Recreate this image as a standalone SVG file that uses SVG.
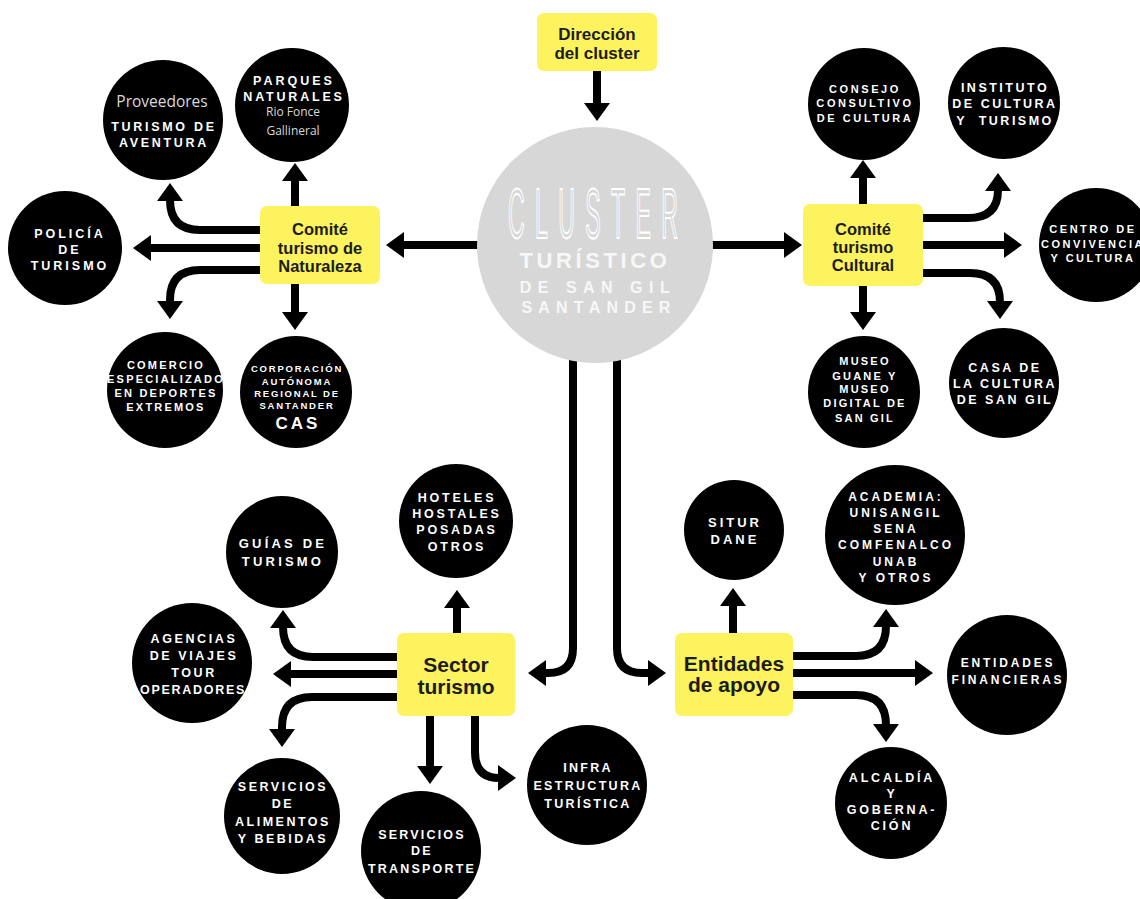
<svg xmlns="http://www.w3.org/2000/svg" width="1140" height="899" viewBox="0 0 1140 899">
<style>
.bg{fill:#ffffff}
.box{fill:#fcf35e}
.bt{fill:#1c1c1c;font-family:"Liberation Sans",Arial,sans-serif;font-weight:bold;text-anchor:middle}
.dot{fill:#000000}
.t{fill:#ffffff;font-family:"Liberation Sans",Arial,sans-serif;font-weight:bold;text-anchor:middle;font-size:12.5px;letter-spacing:2.5px}
.sm{font-size:11px;letter-spacing:2.2px}
.xs{font-size:9.5px;letter-spacing:1.8px}
.lt{fill:#d9d9d9;font-family:"Open Sans","Liberation Sans",sans-serif;font-weight:normal;text-anchor:middle;letter-spacing:0}
.c{fill:none;stroke:#000000;stroke-width:8}
.hub{fill:#d7d7d7}
.ht{fill:#f7f7f7;font-family:"Liberation Sans",Arial,sans-serif;font-weight:bold;text-anchor:middle}
</style>
<defs>
<marker id="ah" viewBox="0 0 18 26" refX="1" refY="13" markerWidth="18" markerHeight="26" markerUnits="userSpaceOnUse" orient="auto">
<path d="M0,0 L18,13 L0,26 Z" fill="#000000"/>
</marker>
</defs>
<rect class="bg" x="0" y="0" width="1140" height="899"/>

<g id="connectors" class="c" marker-end="url(#ah)">
<path d="M597,71 V104"/>
<path d="M478,245 H403"/>
<path d="M712,245 H785"/>
<path d="M295,206 V180"/>
<path d="M260,230 H200 Q170,230 170,200"/>
<path d="M260,248 H150"/>
<path d="M260,270 H200 Q170,270 170,300 V302"/>
<path d="M295,284 V313"/>
<path d="M863,204 V177"/>
<path d="M923,218 H968 Q998,218 998,190"/>
<path d="M923,245 H1005"/>
<path d="M923,273 H970 Q1000,273 1000,302"/>
<path d="M863,286 V313"/>
<path d="M573,355 V648 Q573,673 548,673 H545"/>
<path d="M617,355 V648 Q617,673 642,673 H649"/>
<path d="M457,633 V607"/>
<path d="M397,657 H313 Q283,657 283,627"/>
<path d="M397,674 H290"/>
<path d="M397,697 H312 Q282,697 282,727 V730"/>
<path d="M430,716 V767"/>
<path d="M475,716 V752 Q475,778 499,778"/>
<path d="M733,633 V605"/>
<path d="M793,656 H856 Q886,656 886,626"/>
<path d="M793,673 H916"/>
<path d="M793,695 H856 Q886,695 886,725"/>
</g>

<g id="cluster">
<circle class="hub" cx="595" cy="245" r="118"/>
<text transform="translate(593,238) scale(0.33,1)" text-anchor="middle" font-family="Liberation Sans, Arial, sans-serif" font-size="70" textLength="515" lengthAdjust="spacing" fill="none" stroke="#ffffff" stroke-width="1.5" vector-effect="non-scaling-stroke">CLUSTER</text>
<text class="ht" x="595" y="268" font-size="22" letter-spacing="3.6">TURÍSTICO</text>
<text class="ht" x="598" y="293" font-size="16" letter-spacing="6.5" font-weight="normal">DE SAN GIL</text>
<text class="ht" x="599" y="313" font-size="16" letter-spacing="6.2" font-weight="normal">SANTANDER</text>
</g>

<g id="direccion">
<rect class="box" x="537" y="13" width="120" height="58" rx="7"/>
<text class="bt" x="597" y="40" font-size="17">Dirección</text>
<text class="bt" x="597" y="59" font-size="17">del cluster</text>
</g>

<g id="comite-naturaleza">
<rect class="box" x="260" y="206" width="120" height="78" rx="7"/>
<text class="bt" x="320" y="235" font-size="16.5">Comité</text>
<text class="bt" x="320" y="254" font-size="16.5">turismo de</text>
<text class="bt" x="320" y="272" font-size="16.5">Naturaleza</text>
</g>

<g id="comite-cultural">
<rect class="box" x="803" y="204" width="120" height="82" rx="7"/>
<text class="bt" x="863" y="235" font-size="16.5">Comité</text>
<text class="bt" x="863" y="253" font-size="16.5">turismo</text>
<text class="bt" x="863" y="271" font-size="16.5">Cultural</text>
</g>

<g id="sector-turismo">
<rect class="box" x="397" y="633" width="118" height="83" rx="7"/>
<text class="bt" x="456" y="672" font-size="21">Sector</text>
<text class="bt" x="456" y="694" font-size="21">turismo</text>
</g>

<g id="entidades-apoyo">
<rect class="box" x="675" y="633" width="118" height="83" rx="7"/>
<text class="bt" x="734" y="671" font-size="21">Entidades</text>
<text class="bt" x="734" y="692" font-size="21">de apoyo</text>
</g>

<g id="aventura">
<circle class="dot" cx="163" cy="120" r="60"/>
<text class="t lt" x="162" y="107" style="font-size:15.5px">Proveedores</text>
<text class="t" x="164" y="131" style="letter-spacing:2.7px">TURISMO DE</text>
<text class="t" x="164" y="147" style="letter-spacing:2.7px">AVENTURA</text>
</g>

<g id="parques">
<circle class="dot" cx="292" cy="105" r="57"/>
<text class="t" x="294" y="85" style="letter-spacing:3px">PARQUES</text>
<text class="t" x="294" y="101" style="letter-spacing:2.8px">NATURALES</text>
<text class="t lt" x="293" y="116" style="font-size:12px">Rio Fonce</text>
<text class="t lt" x="293" y="135" style="font-size:12px">Gallineral</text>
</g>

<g id="policia">
<circle class="dot" cx="65" cy="248" r="57"/>
<text class="t" x="70" y="238" style="letter-spacing:3px">POLICÍA</text>
<text class="t" x="70" y="254" style="letter-spacing:3px">DE</text>
<text class="t" x="70" y="270" style="letter-spacing:3px">TURISMO</text>
</g>

<g id="comercio">
<circle class="dot" cx="165" cy="390" r="58"/>
<text class="t sm" x="166" y="369">COMERCIO</text>
<text class="t sm" x="166" y="383">ESPECIALIZADO</text>
<text class="t sm" x="166" y="397">EN DEPORTES</text>
<text class="t sm" x="166" y="411">EXTREMOS</text>
</g>

<g id="cas">
<circle class="dot" cx="296" cy="392" r="56"/>
<text class="t xs" x="297" y="372">CORPORACIÓN</text>
<text class="t xs" x="297" y="385">AUTÓNOMA</text>
<text class="t xs" x="297" y="397">REGIONAL DE</text>
<text class="t xs" x="297" y="409">SANTANDER</text>
<text class="t" x="298" y="429" style="font-size:17px;letter-spacing:3px">CAS</text>
</g>

<g id="consejo">
<circle class="dot" cx="864" cy="104" r="56"/>
<text class="t sm" x="865" y="93" style="letter-spacing:2.6px">CONSEJO</text>
<text class="t sm" x="865" y="107" style="letter-spacing:2.6px">CONSULTIVO</text>
<text class="t sm" x="865" y="122" style="letter-spacing:2.6px">DE CULTURA</text>
</g>

<g id="instituto">
<circle class="dot" cx="1004" cy="103" r="56"/>
<text class="t" x="1005" y="92">INSTITUTO</text>
<text class="t" x="1005" y="108">DE CULTURA</text>
<text class="t" x="1005" y="125" word-spacing="6">Y TURISMO</text>
</g>

<g id="centro">
<circle class="dot" cx="1096" cy="245" r="57"/>
<text class="t sm" x="1093" y="233" style="letter-spacing:2.5px">CENTRO DE</text>
<text class="t sm" x="1093" y="248" style="letter-spacing:2.5px">CONVIVENCIA</text>
<text class="t sm" x="1093" y="262" style="letter-spacing:2.5px">Y CULTURA</text>
</g>

<g id="museo">
<circle class="dot" cx="864" cy="392" r="56"/>
<text class="t sm" x="865" y="365">MUSEO</text>
<text class="t sm" x="865" y="380">GUANE Y</text>
<text class="t sm" x="865" y="393">MUSEO</text>
<text class="t sm" x="865" y="407">DIGITAL DE</text>
<text class="t sm" x="865" y="422">SAN GIL</text>
</g>

<g id="casa-cultura">
<circle class="dot" cx="1004" cy="383" r="55"/>
<text class="t" x="1005" y="372">CASA DE</text>
<text class="t" x="1005" y="388">LA CULTURA</text>
<text class="t" x="1005" y="404">DE SAN GIL</text>
</g>

<g id="guias">
<circle class="dot" cx="282" cy="552" r="56"/>
<text class="t" x="283" y="548" style="font-size:13px;letter-spacing:3.2px">GUÍAS DE</text>
<text class="t" x="283" y="566" style="font-size:13px;letter-spacing:3.2px">TURISMO</text>
</g>

<g id="hoteles">
<circle class="dot" cx="456" cy="521" r="57"/>
<text class="t" x="457" y="502" style="letter-spacing:2.8px">HOTELES</text>
<text class="t" x="457" y="518" style="letter-spacing:2.8px">HOSTALES</text>
<text class="t" x="457" y="534" style="letter-spacing:2.8px">POSADAS</text>
<text class="t" x="457" y="551" style="letter-spacing:2.8px">OTROS</text>
</g>

<g id="agencias">
<circle class="dot" cx="192" cy="663" r="60"/>
<text class="t" x="194" y="643" style="letter-spacing:2.6px">AGENCIAS</text>
<text class="t" x="194" y="660" style="letter-spacing:2.6px">DE VIAJES</text>
<text class="t" x="194" y="677" style="letter-spacing:2.6px">TOUR</text>
<text class="t" x="193" y="694" style="letter-spacing:1.7px">OPERADORES</text>
</g>

<g id="alimentos">
<circle class="dot" cx="282" cy="816" r="58"/>
<text class="t" x="283" y="791">SERVICIOS</text>
<text class="t" x="283" y="808">DE</text>
<text class="t" x="283" y="826">ALIMENTOS</text>
<text class="t" x="283" y="843">Y BEBIDAS</text>
</g>

<g id="transporte">
<circle class="dot" cx="421" cy="851" r="60"/>
<text class="t" x="422" y="839" style="letter-spacing:2.2px">SERVICIOS</text>
<text class="t" x="422" y="855" style="letter-spacing:2.2px">DE</text>
<text class="t" x="422" y="873" style="letter-spacing:2.2px">TRANSPORTE</text>
</g>

<g id="infraestructura">
<circle class="dot" cx="587" cy="785" r="60"/>
<text class="t" x="588" y="772" style="letter-spacing:2.3px">INFRA</text>
<text class="t" x="588" y="790" style="letter-spacing:2.3px">ESTRUCTURA</text>
<text class="t" x="588" y="808" style="letter-spacing:2.3px">TURÍSTICA</text>
</g>

<g id="situr">
<circle class="dot" cx="734" cy="530" r="50"/>
<text class="t" x="735" y="527" style="font-size:13px;letter-spacing:3px">SITUR</text>
<text class="t" x="735" y="544" style="font-size:13px;letter-spacing:3px">DANE</text>
</g>

<g id="academia">
<circle class="dot" cx="895" cy="535" r="70"/>
<text class="t" x="896" y="501" style="font-size:12px;letter-spacing:3px">ACADEMIA:</text>
<text class="t" x="896" y="517" style="font-size:12px;letter-spacing:3px">UNISANGIL</text>
<text class="t" x="896" y="533" style="font-size:12px;letter-spacing:3px">SENA</text>
<text class="t" x="896" y="549" style="font-size:12px;letter-spacing:3px">COMFENALCO</text>
<text class="t" x="896" y="566" style="font-size:12px;letter-spacing:3px">UNAB</text>
<text class="t" x="896" y="582" style="font-size:12px;letter-spacing:3px">Y OTROS</text>
</g>

<g id="financieras">
<circle class="dot" cx="1007" cy="675" r="60"/>
<text class="t" x="1008" y="667" style="font-size:12px;letter-spacing:2.8px">ENTIDADES</text>
<text class="t" x="1008" y="684" style="font-size:12px;letter-spacing:2.8px">FINANCIERAS</text>
</g>

<g id="alcaldia">
<circle class="dot" cx="891" cy="803" r="56"/>
<text class="t" x="892" y="782" style="letter-spacing:2.8px">ALCALDÍA</text>
<text class="t" x="892" y="798" style="letter-spacing:2.8px">Y</text>
<text class="t" x="892" y="814" style="letter-spacing:2.8px">GOBERNA-</text>
<text class="t" x="892" y="830" style="letter-spacing:2.8px">CIÓN</text>
</g>
</svg>
